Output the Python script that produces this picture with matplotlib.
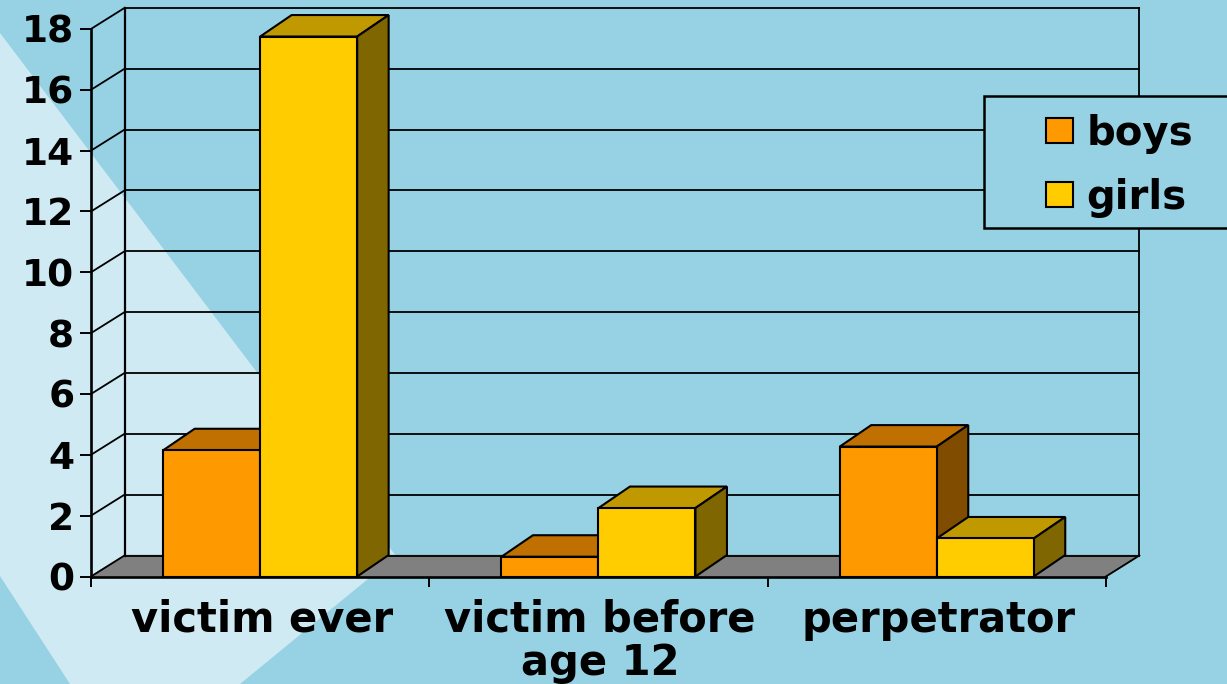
import matplotlib
matplotlib.use("Agg")
import matplotlib.pyplot as plt
from matplotlib.patches import Patch, Polygon, Rectangle

categories = ["victim ever", "victim before\nage 12", "perpetrator"]
boys = [4.15, 0.65, 4.27]
girls = [17.75, 2.25, 1.25]
y_ticks = [0, 2, 4, 6, 8, 10, 12, 14, 16, 18]

W, H = 1227, 684
BG = "#96D2E3"
BAND = "#CFEAF2"
ORANGE = ("#FF9900", "#C07000", "#804C00")
YELLOW = ("#FFCC00", "#C09900", "#806600")

# pixel scale of the axes, one category wide and one unit high
x0_px, y0_px = 91, 576.5
cat_px, unit_px = 338.3, 30.42
wall_dx, wall_dy = 33.5 / cat_px, 21 / unit_px
dx, dy = 31.5 / cat_px, 21.5 / unit_px
bar_w = 97 / cat_px

fig = plt.figure(figsize=(W / 100, H / 100), dpi=100, facecolor=BG)
ax = fig.add_axes([0, 0, 1, 1], facecolor="none")
ax.set_xlim(-x0_px / cat_px, (W - x0_px) / cat_px)
ax.set_ylim((y0_px - H) / unit_px, y0_px / unit_px)


def px(x, y):
    return (x / W, 1 - y / H)


# light diagonal band of the slide background
band_px = [(0, 33), (396, 556), (240, 684), (70, 684), (0, 576)]
ax.add_patch(Polygon([px(*p) for p in band_px], closed=True, transform=ax.transAxes,
                     facecolor=BAND, edgecolor="none", zorder=0))

# floor and back wall
ax.fill([0, 3, 3 + wall_dx, wall_dx], [0, 0, wall_dy, wall_dy], color="#808080", zorder=1)
for v in y_ticks:
    ax.plot([wall_dx, 3 + wall_dx], [v + wall_dy, v + wall_dy], color="black", lw=1.3, zorder=1)
    ax.plot([0, wall_dx], [v, v + wall_dy], color="black", lw=1.3, zorder=1)
ax.plot([3, 3 + wall_dx], [0, wall_dy], color="black", lw=1.3, zorder=1)
ax.plot([wall_dx, wall_dx], [wall_dy, 18 + wall_dy], color="black", lw=1.6, zorder=1)
ax.plot([3 + wall_dx, 3 + wall_dx], [wall_dy, 18 + wall_dy], color="black", lw=1.3, zorder=1)


def bar3d(left, value, cols, z):
    right = left + bar_w
    ax.fill([left, right, right + dx, left + dx], [value, value, value + dy, value + dy],
            facecolor=cols[1], edgecolor="black", lw=1.5, zorder=z)
    ax.fill([right, right + dx, right + dx, right], [0, dy, value + dy, value],
            facecolor=cols[2], edgecolor="black", lw=1.5, zorder=z)
    ax.bar(left, value, bar_w, align="edge", color=cols[0], edgecolor="black", lw=1.5, zorder=z)


for i in range(len(categories)):
    c = i + 0.5
    bar3d(c - bar_w, boys[i], ORANGE, 2)
    bar3d(c, girls[i], YELLOW, 3)

# axes
for s in ["top", "right"]:
    ax.spines[s].set_visible(False)
ax.spines["left"].set_position(("data", 0))
ax.spines["bottom"].set_position(("data", 0))
ax.spines["left"].set_bounds(0, 18)
ax.spines["bottom"].set_bounds(0, 3)
ax.spines["left"].set_linewidth(1.9)
ax.spines["bottom"].set_linewidth(1.9)
ax.spines["left"].set_zorder(4)
ax.spines["bottom"].set_zorder(4)

ax.set_yticks(y_ticks)
ax.set_xticks([0, 1, 2, 3])
ax.set_xticklabels([])
ax.set_xticks([0.505, 1.505, 2.505], labels=categories, minor=True)
ax.tick_params(axis="y", direction="out", length=8, width=1.4, pad=4, labelsize=27)
ax.tick_params(axis="x", which="major", direction="out", length=7, width=1.4)
ax.tick_params(axis="x", which="minor", length=0, pad=16, labelsize=30)
for lab in ax.get_yticklabels() + ax.get_xticklabels(minor=True):
    lab.set_fontweight("bold")
    lab.set_linespacing(1.03)

# legend box runs off the right edge
lx, ly = px(984, 228)
lx2, ly2 = px(1240, 96)
ax.add_patch(Rectangle((lx, ly), lx2 - lx, ly2 - ly, transform=ax.transAxes, facecolor=BG,
                       edgecolor="black", lw=1.8, zorder=6))
handles = [Patch(facecolor=ORANGE[0], edgecolor="black", lw=1.5),
           Patch(facecolor=YELLOW[0], edgecolor="black", lw=1.5)]
leg = ax.legend(handles, ["boys", "girls"], loc="center left", bbox_to_anchor=px(1046, 166),
                frameon=False, borderpad=0, borderaxespad=0, handlelength=0.66, handleheight=0.58,
                handletextpad=0.35, labelspacing=0.6, prop={"size": 29, "weight": "bold"})
leg.set_zorder(7)

fig.savefig("out.png", dpi=100)
